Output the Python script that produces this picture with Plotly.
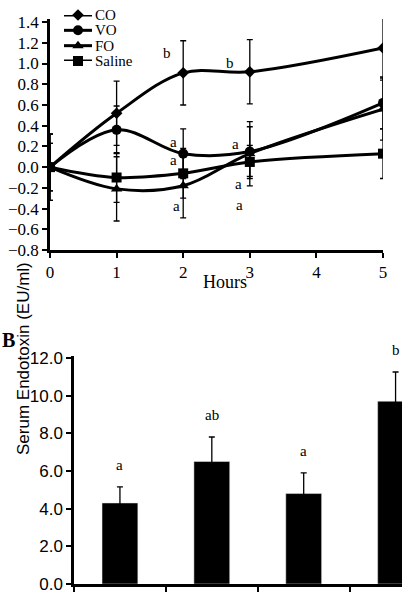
import plotly.graph_objects as go

W, H = 402, 594

# ---- panel A: change over time ----
hours = [0, 1, 2, 3, 5]
co = [0.0, 0.52, 0.91, 0.92, 1.15]
co_err = [0.32, 0.31, 0.31, 0.31, 0.31]
vo = [0.0, 0.36, 0.13, 0.15, 0.62]
vo_err = [0.23, 0.23, 0.24, 0.24, 0.25]
fo = [0.0, -0.21, -0.18, 0.13, 0.56]
fo_err = [0.32, 0.31, 0.31, 0.31, 0.30]
saline = [0.0, -0.10, -0.06, 0.05, 0.13]
saline_err = [0.23, 0.24, 0.24, 0.16, 0.24]

# significance letters for panel A: (hour, value, text)
a_letters = [
    (1.76, 1.10, "b"), (2.71, 1.01, "b"), (5.12, 1.26, "b"),
    (5.22, 0.58, "ab"), (5.2, 0.40, "a"), (5.24, 0.07, "a"),
    (1.86, 0.24, "a"), (1.86, 0.07, "a"), (1.9, -0.38, "a"),
    (2.79, 0.22, "a"), (2.83, -0.16, "a"), (2.85, -0.37, "a"),
]

# ---- panel B: serum endotoxin ----
groups = ["Saline", "VO", "FO", "CO"]
endotoxin = [4.3, 6.5, 4.8, 9.7]
endotoxin_err = [0.85, 1.3, 1.1, 1.55]
b_letters = ["a", "ab", "a", "b"]

SERIF = "Liberation Serif"
SANS = "Liberation Sans"


def px_x(p):
    return p / W


def px_y(p):
    return 1 - p / H


fig = go.Figure()

series = [
    ("CO", co, co_err, "diamond", 9),
    ("VO", vo, vo_err, "circle", 10),
    ("FO", fo, fo_err, "triangle-up", 10),
    ("Saline", saline, saline_err, "square", 10),
]
for i, (name, vals, errs, sym, size) in enumerate(series):
    fig.add_trace(go.Scatter(
        x=hours, y=vals, name=name, mode="lines+markers",
        line=dict(color="black", width=3, shape="spline", smoothing=1),
        marker=dict(symbol=sym, size=size, color="black"),
        error_y=dict(type="data", array=errs, color="black",
                     thickness=1.3, width=3),
        showlegend=False, xaxis="x", yaxis="y",
    ))
    # hand-made legend row (own 0..1 axes over the legend box)
    fig.add_trace(go.Scatter(
        x=[0, 1], y=[i, i], mode="lines", line=dict(color="black", width=3),
        cliponaxis=False, showlegend=False, hoverinfo="skip",
        xaxis="x3", yaxis="y3",
    ))
    fig.add_trace(go.Scatter(
        x=[0.5], y=[i], mode="markers",
        marker=dict(symbol=sym, size=size, color="black"),
        cliponaxis=False, showlegend=False, hoverinfo="skip",
        xaxis="x3", yaxis="y3",
    ))

fig.add_trace(go.Bar(
    x=groups, y=endotoxin, marker_color="black", width=0.39,
    error_y=dict(type="data", array=endotoxin_err, color="black",
                 thickness=1.3, width=3),
    showlegend=False, xaxis="x2", yaxis="y2",
))

annotations = []
for hx, hy, txt in a_letters:
    annotations.append(dict(x=hx, y=hy, xref="x", yref="y", text=txt,
                            showarrow=False,
                            font=dict(family=SERIF, size=15, color="black")))
for g, v, e, txt in zip(groups, endotoxin, endotoxin_err, b_letters):
    annotations.append(dict(x=g, y=v + e, xref="x2", yref="y2", text=txt,
                            showarrow=False, yanchor="bottom", yshift=12,
                            font=dict(family=SERIF, size=15, color="black")))
for i, (name, *_rest) in enumerate(series):
    annotations.append(dict(x=1.0, y=i, xref="x3", yref="y3", text=name,
                            showarrow=False, xanchor="left", xshift=1,
                            font=dict(family=SERIF, size=15, color="black")))

annotations += [
    dict(x=px_x(225), y=px_y(282), xref="paper", yref="paper", text="Hours",
         showarrow=False, font=dict(family=SERIF, size=18, color="black")),
    dict(x=px_x(0), y=px_y(340), xref="paper", yref="paper", text="<b>B</b>",
         showarrow=False, font=dict(family=SERIF, size=20, color="black")),
    dict(x=px_x(12), y=px_y(457), xref="paper", yref="paper",
         text="Serum Endotoxin (EU/ml)", textangle=-90, showarrow=False,
         font=dict(family=SANS, size=17, color="black")),
]

axis_common = dict(showgrid=False, zeroline=False, showline=True,
                   linecolor="black", linewidth=2.5, ticks="outside",
                   ticklen=5, tickwidth=2, tickcolor="black",
                   automargin=False)

hidden = dict(visible=False, showgrid=False, zeroline=False, fixedrange=True)

fig.update_layout(
    width=W, height=H, margin=dict(l=0, r=0, t=0, b=0),
    paper_bgcolor="white", plot_bgcolor="white",
    showlegend=False,
    xaxis=dict(domain=[px_x(50), px_x(383)], range=[0, 5.0],
               anchor="y", tickvals=[0, 1, 2, 3, 4, 5],
               tickfont=dict(family=SERIF, size=17, color="black"),
               **axis_common),
    yaxis=dict(domain=[px_y(250), px_y(19)], range=[-0.8, 1.43],
               anchor="x", tickvals=[-0.8, -0.6, -0.4, -0.2, 0, 0.2, 0.4,
                                     0.6, 0.8, 1.0, 1.2, 1.4],
               tickformat=".1f",
               tickfont=dict(family=SERIF, size=17, color="black"),
               **axis_common),
    xaxis2=dict(domain=[px_x(74), 1.0], range=[-0.5, 3.07], anchor="y2",
                type="category", tickson="boundaries",
                tickfont=dict(family=SANS, size=18, color="black"),
                **axis_common),
    yaxis2=dict(domain=[px_y(584), px_y(356)], range=[0, 12.1], anchor="x2",
                tickvals=[0, 2, 4, 6, 8, 10, 12], tickformat=".1f",
                tickfont=dict(family=SANS, size=17, color="black"),
                **axis_common),
    xaxis3=dict(domain=[px_x(64), px_x(92)], range=[0, 1], anchor="y3",
                **hidden),
    yaxis3=dict(domain=[px_y(61), px_y(15)], range=[3, 0], anchor="x3",
                **hidden),
    annotations=annotations,
)

# the page's default 8px body margin would shift the whole figure
fig.write_html("out.html", config={"displayModeBar": False},
               post_script="document.body.style.margin='0px';")
